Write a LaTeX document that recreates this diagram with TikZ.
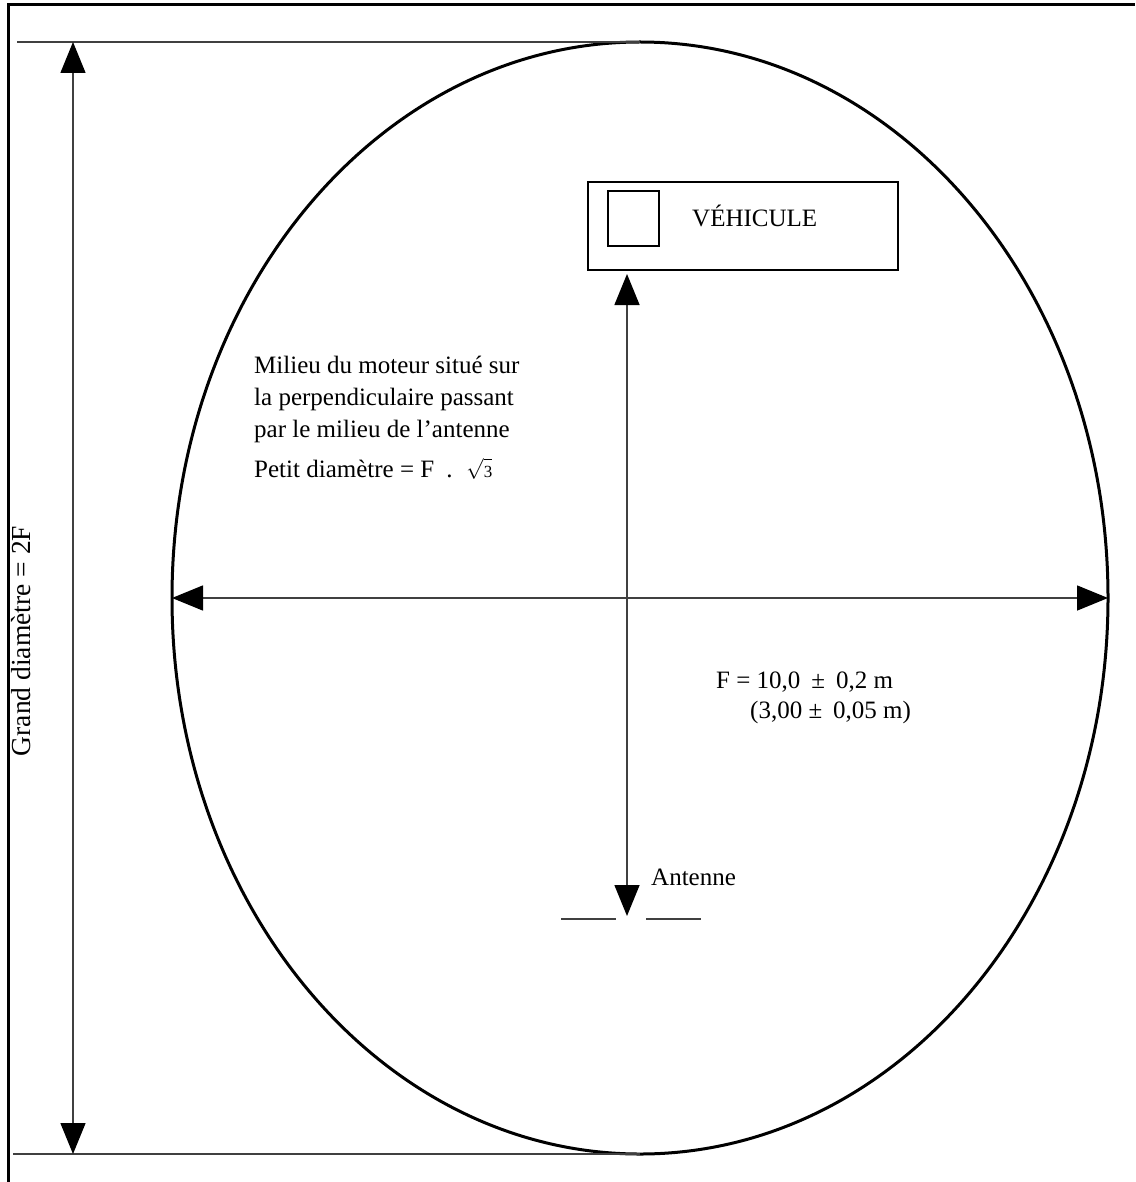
\documentclass[tikz,border=0pt]{standalone}
\usepackage{fontspec}
\setmainfont{Liberation Serif}
\usetikzlibrary{positioning,arrows.meta}

\tikzset{
  lbl/.style={inner sep=0pt, font=\fontsize{25}{32}\selectfont},
  thinline/.style={line width=1.5pt, draw=black!75},
  cote/.style={thinline, {Triangle[length=31pt,width=25pt,color=black]}-{Triangle[length=31pt,width=25pt,color=black]}},
}

\begin{document}
\begin{tikzpicture}[x=1pt,y=-1pt]
				\useasboundingbox (0,0) rectangle (1135,1182);
				% cadre
				\draw[line width=3pt] (8,1182) -- (8,5) -- (1135,5);
				% ellipse
				\coordinate (O) at (640,598);
				\draw[line width=3pt] (O) ellipse [x radius=468, y radius=556];
				\coordinate (top) at (640,42);
				\coordinate (bot) at (640,1154);
				\coordinate (topL) at (17,42);
				\coordinate (botL) at (13,1154);
				\draw[thinline] (topL) -- (top);
				\draw[thinline] (botL) -- (bot);
				% grand diametre
				\coordinate (gtop) at (73,42);
				\coordinate (gbot) at (73,1154);
				\draw[cote] (gtop) -- (gbot);
				\node[lbl, rotate=90, font=\fontsize{27.5}{30}\selectfont] (grand) at (21,641) {Grand diamètre = 2F};
				% petit diametre
				\coordinate (L) at (172,598);
				\coordinate (R) at (1108,598);
				\draw[cote] (L) -- (R);
				% vehicule
				\node[draw, line width=1.5pt, minimum width=310pt, minimum height=88pt] (vehicule) at (743,226) {};
				\node[draw, line width=1.5pt, minimum width=51pt, minimum height=55pt] (moteur) at (633.5,218.5) {};
				\node[lbl, anchor=base west] (veh) at (692,227) {VÉHICULE};
				% axe moteur - antenne
				\coordinate (M) at (627,274);
				\coordinate (A) at (627,916);
				\draw[cote] (M) -- (A);
				\draw[thinline] (561,919) -- (616,919);
				\draw[thinline] (646,919) -- (701,919);
				\node[lbl, anchor=base west] (antenne) at (651,885) {Antenne};
				% textes
				\node[lbl, anchor=base west, align=left] (milieu) at (254,437) {Milieu du moteur situé sur\\la perpendiculaire passant\\par le milieu de l’antenne};
				\node[lbl, anchor=base west] (petit) at (254,477) {Petit diamètre = F\hspace{12pt}.\hspace{14pt}{\fontsize{22}{24}\selectfont$\sqrt{\mbox{\fontsize{17}{17}\selectfont 3}\vphantom{\mbox{\fontsize{22}{22}\selectfont 3}}}$}};
				\node[lbl, anchor=base west, align=left, font=\fontsize{25}{30}\selectfont] (F) at (716,718) {F = 10,0\hspace{11pt}±\hspace{11pt}0,2 m\\\hspace{34pt}(3,00 ±\hspace{11pt}0,05 m)};
			\end{tikzpicture}
\end{document}
